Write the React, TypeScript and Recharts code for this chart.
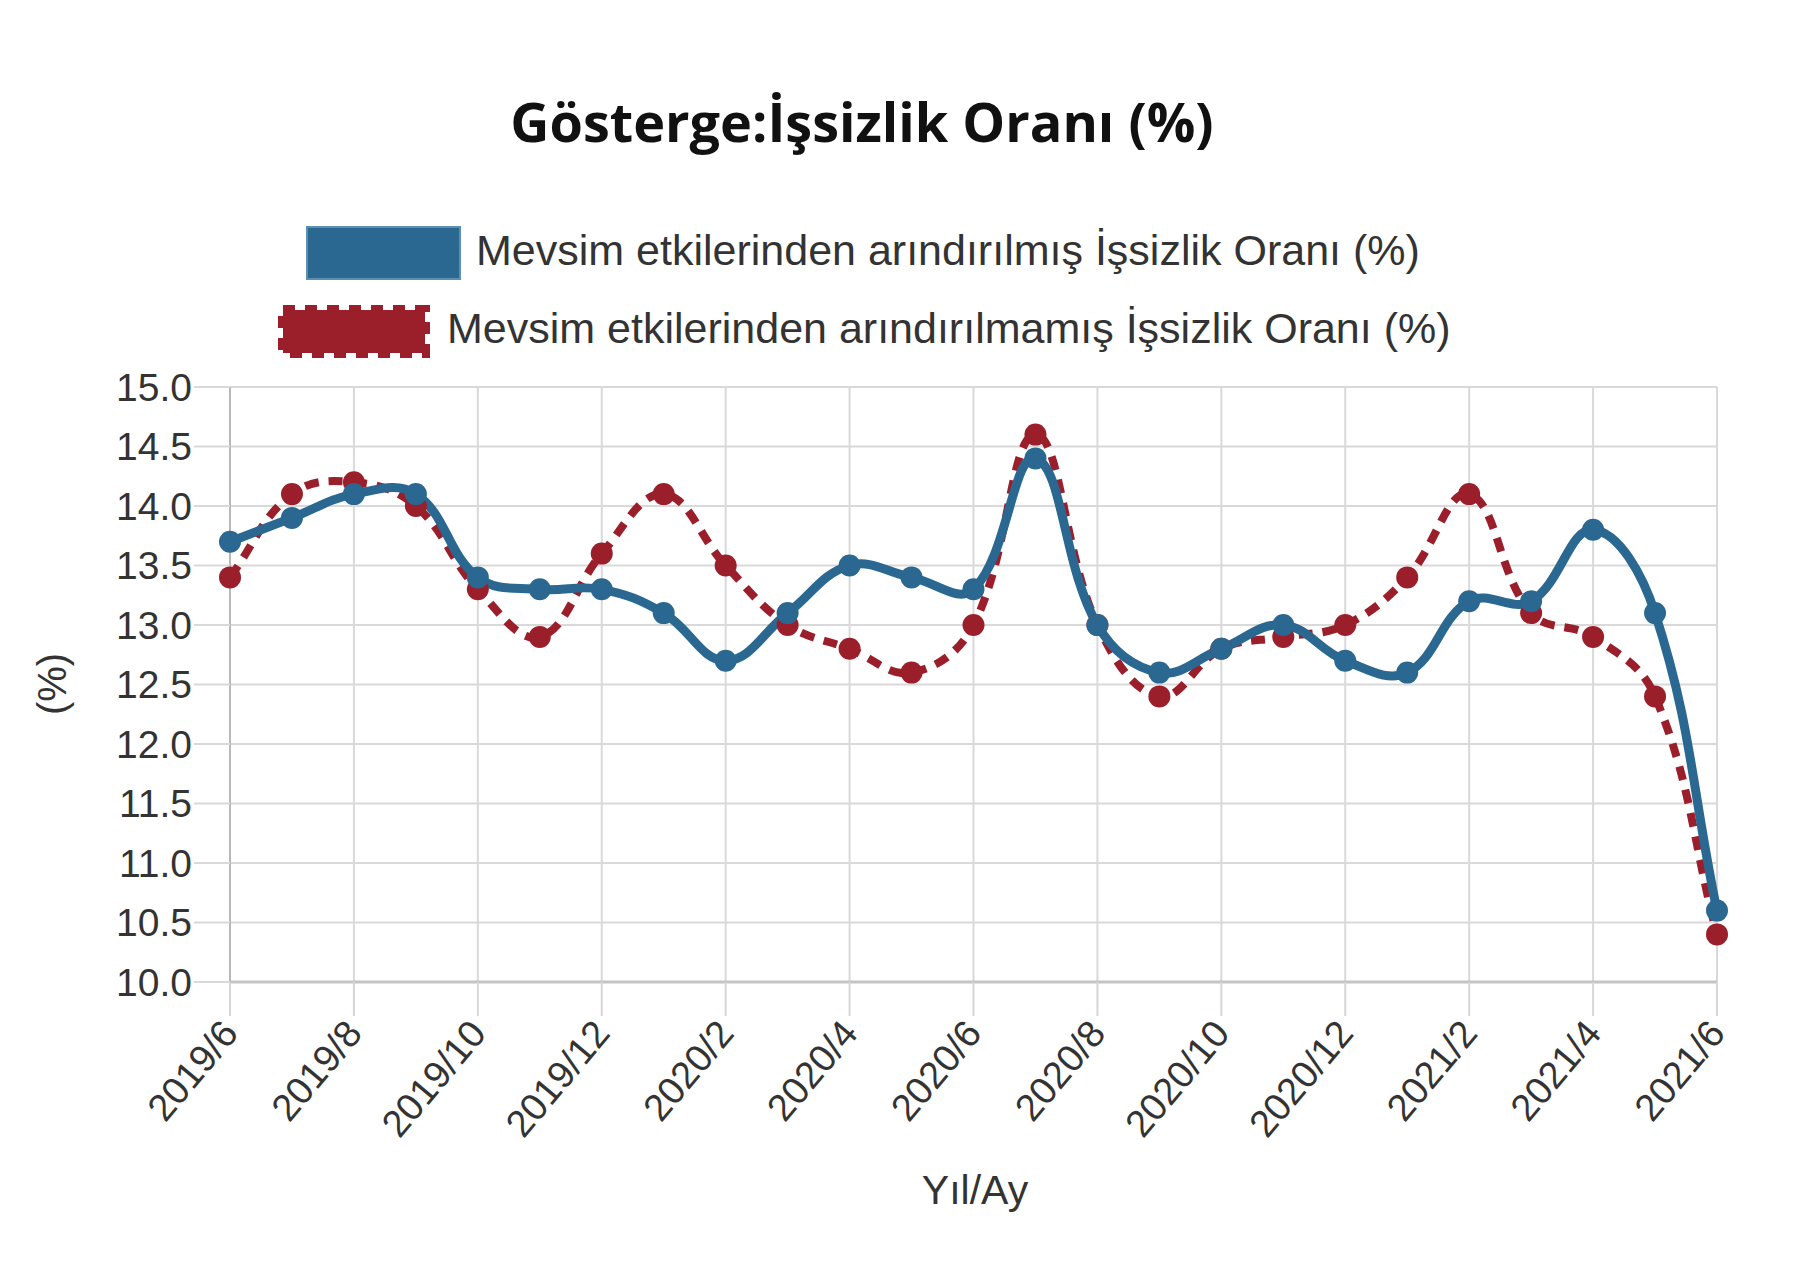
import React from 'react';
import { LineChart, Line, XAxis, YAxis, CartesianGrid, Legend } from 'recharts';

const months = [
  '2019/6', '2019/7', '2019/8', '2019/9', '2019/10', '2019/11', '2019/12',
  '2020/1', '2020/2', '2020/3', '2020/4', '2020/5', '2020/6', '2020/7',
  '2020/8', '2020/9', '2020/10', '2020/11', '2020/12',
  '2021/1', '2021/2', '2021/3', '2021/4', '2021/5', '2021/6',
];
const adjusted = [
  13.7, 13.9, 14.1, 14.1, 13.4, 13.3, 13.3,
  13.1, 12.7, 13.1, 13.5, 13.4, 13.3, 14.4,
  13.0, 12.6, 12.8, 13.0, 12.7,
  12.6, 13.2, 13.2, 13.8, 13.1, 10.6,
];
const unadjusted = [
  13.4, 14.1, 14.2, 14.0, 13.3, 12.9, 13.6,
  14.1, 13.5, 13.0, 12.8, 12.6, 13.0, 14.6,
  13.0, 12.4, 12.8, 12.9, 13.0,
  13.4, 14.1, 13.1, 12.9, 12.4, 10.4,
];
const xTicks = [0, 2, 4, 6, 8, 10, 12, 14, 16, 18, 20, 22, 24];
const yTicks = [10, 10.5, 11, 11.5, 12, 12.5, 13, 13.5, 14, 14.5, 15];

const TITLE = 'Gösterge:İşsizlik Oranı (%)';
const NAME_ADJ = 'Mevsim etkilerinden arındırılmış İşsizlik Oranı (%)';
const NAME_UNADJ = 'Mevsim etkilerinden arındırılmamış İşsizlik Oranı (%)';
const Y_TITLE = '(%)';
const X_TITLE = 'Yıl/Ay';

const BLUE = '#2a6891';
const RED = '#9a1f2b';
const TEXT = '#333333';
const FONT = '"Liberation Sans", Arial, sans-serif';

const data = months.map((m, i) => ({
  i,
  month: m,
  adjusted: adjusted[i],
  unadjusted: unadjusted[i],
}));

// Chart.js-like spline (tension 0.4) as a d3 curve factory
function splineCurve(context: any) {
  let pts: [number, number][] = [];
  return {
    areaStart() {},
    areaEnd() {},
    lineStart() {
      pts = [];
    },
    lineEnd() {
      const n = pts.length;
      if (!n) return;
      context.moveTo(pts[0][0], pts[0][1]);
      if (n === 1) return;
      const t = 0.4;
      const cps = pts.map((p, k) => {
        const prev = pts[k - 1] || p;
        const next = pts[k + 1] || p;
        const d01 = Math.hypot(p[0] - prev[0], p[1] - prev[1]);
        const d12 = Math.hypot(next[0] - p[0], next[1] - p[1]);
        let s01 = d01 / (d01 + d12);
        let s12 = d12 / (d01 + d12);
        if (!isFinite(s01)) s01 = 0;
        if (!isFinite(s12)) s12 = 0;
        const fa = t * s01;
        const fb = t * s12;
        return {
          p: [p[0] - fa * (next[0] - prev[0]), p[1] - fa * (next[1] - prev[1])],
          n: [p[0] + fb * (next[0] - prev[0]), p[1] + fb * (next[1] - prev[1])],
        };
      });
      for (let k = 1; k < n; k++) {
        context.bezierCurveTo(
          cps[k - 1].n[0], cps[k - 1].n[1],
          cps[k].p[0], cps[k].p[1],
          pts[k][0], pts[k][1]
        );
      }
    },
    point(x: number, y: number) {
      pts.push([+x, +y]);
    },
  };
}

const XTick = (props: any) => {
  const { x, y, payload } = props;
  return (
    <g transform={`translate(${x},${y + 10})`}>
      <text
        transform="rotate(-50)"
        textAnchor="end"
        dominantBaseline="central"
        fontSize={38}
        fill={TEXT}
        fontFamily={FONT}
      >
        {months[payload.value]}
      </text>
    </g>
  );
};

const legendLayout: Record<string, any> = {
  adjusted: { boxX: 307, boxY: 227, boxW: 153, boxH: 52, textX: 476, baseline: 265 },
  unadjusted: { boxX: 283, boxY: 310, boxW: 142, boxH: 43, textX: 447, baseline: 343 },
};

const renderLegend = (props: any) => {
  const payload = props.payload || [];
  return (
    <svg width={1794} height={380} style={{ position: 'absolute', left: 0, top: 0 }}>
      {payload.map((entry: any) => {
        const key = entry.dataKey as string;
        const L = legendLayout[key];
        if (!L) return null;
        const dashed = key === 'unadjusted';
        return (
          <g key={key}>
            {dashed ? (
              <rect
                x={L.boxX}
                y={L.boxY}
                width={L.boxW}
                height={L.boxH}
                fill={entry.color}
                stroke={entry.color}
                strokeWidth={10}
                strokeDasharray="12 10"
              />
            ) : (
              <rect
                x={L.boxX}
                y={L.boxY}
                width={L.boxW}
                height={L.boxH}
                fill={entry.color}
                stroke="#5d8fb2"
                strokeWidth={2}
              />
            )}
            <text x={L.textX} y={L.baseline} fontSize={43} fill={TEXT} fontFamily={FONT}>
              {entry.value}
            </text>
          </g>
        );
      })}
    </svg>
  );
};

export default function App() {
  return (
    <div
      style={{
        position: 'absolute',
        left: 0,
        top: 0,
        width: 1794,
        height: 1265,
        background: '#ffffff',
        overflow: 'hidden',
      }}
    >
      <LineChart
        width={1794}
        height={1265}
        data={data}
        margin={{ top: 387, right: 77, left: 0, bottom: 0 }}
      >
        <CartesianGrid stroke="#d9d9d9" strokeWidth={2} />
        <XAxis
          dataKey="i"
          type="number"
          domain={[0, 24]}
          ticks={xTicks}
          interval={0}
          height={283}
          tickSize={34}
          tickMargin={0}
          tickLine={{ stroke: '#d6d6d6', strokeWidth: 2 }}
          axisLine={{ stroke: '#c4c4c4', strokeWidth: 3 }}
          tick={<XTick />}
        />
        <YAxis
          type="number"
          domain={[10, 15]}
          ticks={yTicks}
          interval={0}
          width={230}
          tickSize={36}
          tickMargin={2}
          tickFormatter={(v: number) => v.toFixed(1)}
          tickLine={{ stroke: '#d9d9d9', strokeWidth: 2 }}
          axisLine={{ stroke: '#b8b8b8', strokeWidth: 2 }}
          tick={{ fill: TEXT, fontSize: 39, fontFamily: FONT }}
        />
        <Legend
          layout="vertical"
          align="center"
          verticalAlign="middle"
          content={renderLegend}
          wrapperStyle={{ position: 'absolute', left: 0, top: 0, width: 1794, height: 380 }}
        />
        <Line
          dataKey="unadjusted"
          name={NAME_UNADJ}
          type={splineCurve as any}
          stroke={RED}
          strokeWidth={8}
          strokeDasharray="14 10"
          dot={{ r: 11, fill: RED, stroke: RED, strokeWidth: 0, strokeDasharray: '' }}
          isAnimationActive={false}
          legendType="square"
        />
        <Line
          dataKey="adjusted"
          name={NAME_ADJ}
          type={splineCurve as any}
          stroke={BLUE}
          strokeWidth={9}
          dot={{ r: 11, fill: BLUE, stroke: BLUE, strokeWidth: 0 }}
          isAnimationActive={false}
          legendType="square"
        />
      </LineChart>
      <svg
        width={1794}
        height={1265}
        style={{ position: 'absolute', left: 0, top: 0, pointerEvents: 'none' }}
      >
        <text
          x={862}
          y={142}
          textAnchor="middle"
          fontSize={54}
          fontWeight={700}
          fill="#111111"
          fontFamily='"Open Sans", sans-serif'
        >
          {TITLE}
        </text>
        <text
          transform="translate(66,684) rotate(-90)"
          textAnchor="middle"
          fontSize={40}
          fill={TEXT}
          fontFamily={FONT}
        >
          {Y_TITLE}
        </text>
        <text x={975} y={1204} textAnchor="middle" fontSize={41} fill={TEXT} fontFamily={FONT}>
          {X_TITLE}
        </text>
      </svg>
    </div>
  );
}
